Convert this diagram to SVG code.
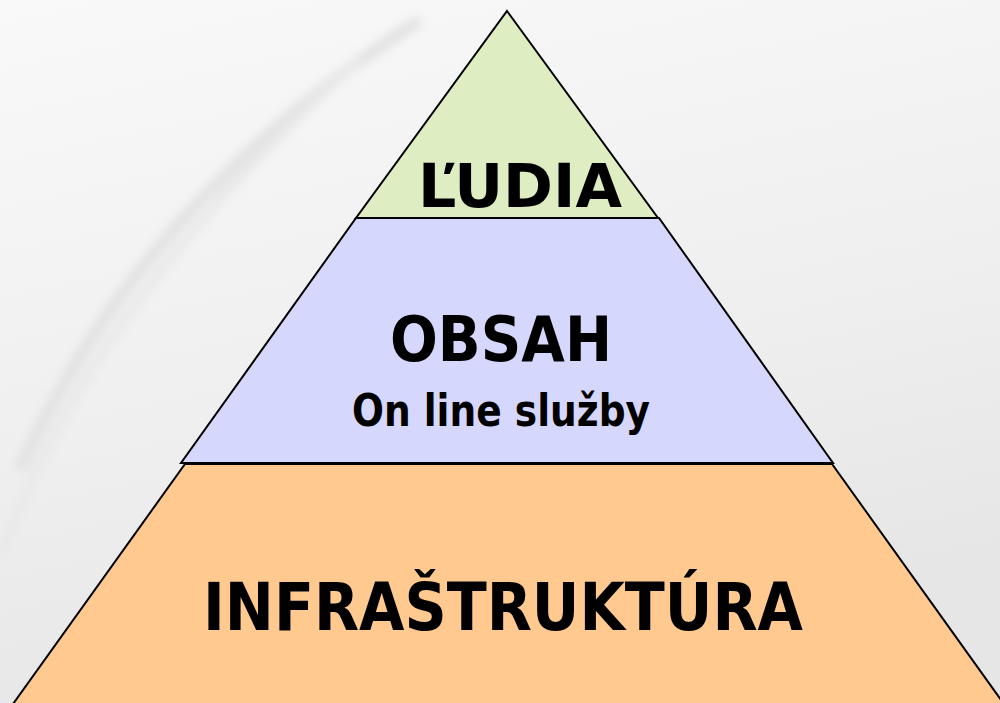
<svg xmlns="http://www.w3.org/2000/svg" width="1000" height="703" viewBox="0 0 1000 703">
<defs>
<linearGradient id="bg" x1="0" y1="0" x2="0.3" y2="1">
<stop offset="0" stop-color="#f9f9f9"/>
<stop offset="0.6" stop-color="#efefef"/>
<stop offset="1" stop-color="#e6e6e6"/>
</linearGradient>
<filter id="blur" x="-20%" y="-20%" width="140%" height="140%"><feGaussianBlur stdDeviation="5"/></filter>
<style>
.layer{stroke:#000;stroke-width:2;stroke-linejoin:miter}
.lbl{font-family:"DejaVu Sans","Verdana",sans-serif;font-weight:bold;fill:#000;text-anchor:middle}
</style>
</defs>
<rect width="1000" height="703" fill="url(#bg)"/>
<g fill="none" filter="url(#blur)">
<path d="M20 470 Q140 200 420 20" stroke="#e2e2e2" stroke-width="12"/>
<path d="M0 560 Q90 300 360 60" stroke="#e9e9e9" stroke-width="10"/>
</g>
<g id="infrastruktura">
<polygon class="layer" points="185,464 832,464 1004,704 13,704" fill="#ffc990"/>
<text class="lbl" x="503" y="630" font-size="66" textLength="600" lengthAdjust="spacingAndGlyphs">INFRAŠTRUKTÚRA</text>
</g>
<g id="obsah">
<polygon class="layer" points="356,218 659,218 833,463 181,463" fill="#d6d7fd"/>
<text class="lbl" x="501" y="361" font-size="63" textLength="222" lengthAdjust="spacingAndGlyphs">OBSAH</text>
<text class="lbl" x="501" y="426" font-size="44" textLength="298" lengthAdjust="spacingAndGlyphs">On line služby</text>
</g>
<g id="ludia">
<polygon class="layer" points="507,11 658,218 356,218" fill="#dfedc3"/>
<text class="lbl" x="520" y="207" font-size="61" textLength="204" lengthAdjust="spacingAndGlyphs">ĽUDIA</text>
</g>
<g id="connectors"/>
</svg>
